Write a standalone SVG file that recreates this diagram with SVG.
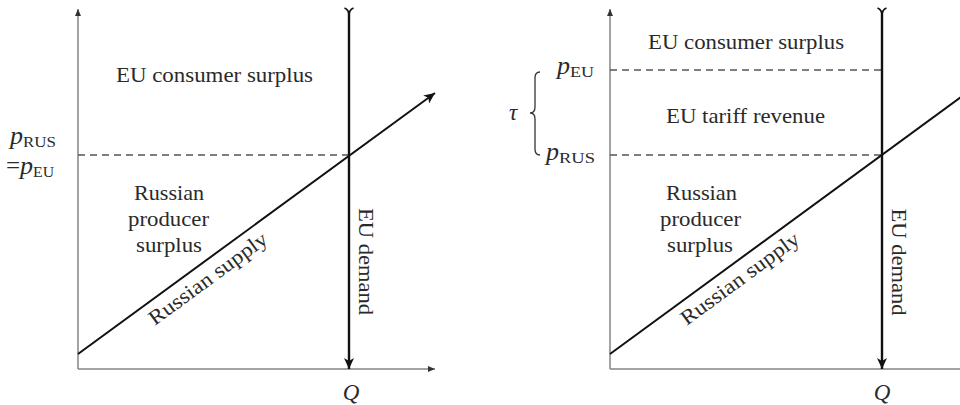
<svg xmlns="http://www.w3.org/2000/svg" width="960" height="405" viewBox="0 0 960 405">
<style>
.lbl{font-family:"Liberation Serif","DejaVu Serif",serif;font-size:21px;fill:#2a2a2a;}
.mi{font-family:"Liberation Serif","DejaVu Serif",serif;font-style:italic;font-size:26px;fill:#2a2a2a;}
.sub{font-family:"Liberation Serif","DejaVu Serif",serif;font-size:15px;fill:#2a2a2a;}
.axis{stroke:#858585;stroke-width:1.5;fill:none;}
.supply{stroke:#111;stroke-width:2;fill:none;}
.demand{stroke:#111;stroke-width:2.4;fill:none;}
.dash{stroke:#555;stroke-width:1.3;stroke-dasharray:7 5;fill:none;}
.fork{stroke:#111;stroke-width:1.6;fill:none;}
.brace{stroke:#333;stroke-width:1.3;fill:none;}
</style>
<defs>
<marker id="axArrow" markerUnits="userSpaceOnUse" markerWidth="8" markerHeight="6" refX="7" refY="3" orient="auto">
<path d="M0,0 L7,3 L0,6 z" fill="#333"/>
</marker>
<marker id="stealth" markerUnits="userSpaceOnUse" markerWidth="12" markerHeight="10" refX="11" refY="5" orient="auto">
<path d="M0,0 L11,5 L0,10 L3,5 z" fill="#111"/>
</marker>
</defs>

<g id="left-panel">
<g id="left-axes">
<line class="axis" x1="78" y1="369" x2="78" y2="9" marker-end="url(#axArrow)"/>
<line class="axis" x1="78" y1="369" x2="435" y2="369" marker-end="url(#axArrow)"/>
</g>
<g id="left-connectors">
<line class="dash" x1="78" y1="155" x2="349" y2="155"/>
<line class="supply" x1="78" y1="354" x2="435" y2="93" marker-end="url(#stealth)"/>
<line class="demand" x1="349" y1="11" x2="349" y2="369" marker-end="url(#stealth)"/>
<path class="fork" d="M344.5,8 Q349,10 349,15 M353.5,8 Q349,10 349,15"/>
</g>
<g id="left-consumer-surplus"><text class="lbl" x="214.5" y="82" text-anchor="middle" textLength="197" lengthAdjust="spacingAndGlyphs">EU consumer surplus</text></g>
<g id="left-price"><text x="10" y="144"><tspan class="mi">p</tspan><tspan class="sub" dy="3" textLength="33" lengthAdjust="spacingAndGlyphs">RUS</tspan></text>
<text x="6" y="174"><tspan class="lbl" style="font-size:25px">=</tspan><tspan class="mi">p</tspan><tspan class="sub" dy="3" textLength="21" lengthAdjust="spacingAndGlyphs">EU</tspan></text></g>
<g id="left-producer-surplus">
<text class="lbl" x="169" y="200" text-anchor="middle" textLength="70" lengthAdjust="spacingAndGlyphs">Russian</text>
<text class="lbl" x="168.5" y="226" text-anchor="middle" textLength="81" lengthAdjust="spacingAndGlyphs">producer</text>
<text class="lbl" x="169" y="252" text-anchor="middle" textLength="66" lengthAdjust="spacingAndGlyphs">surplus</text>
</g>
<g id="left-supply-label"><text class="lbl" transform="translate(212,284) rotate(-36.3)" text-anchor="middle" textLength="142" lengthAdjust="spacingAndGlyphs">Russian supply</text></g>
<g id="left-demand-label"><text class="lbl" transform="translate(359,261.5) rotate(90)" text-anchor="middle" textLength="107" lengthAdjust="spacingAndGlyphs">EU demand</text></g>
<g id="left-Q"><text class="mi" x="351" y="400" text-anchor="middle" style="font-size:23px">Q</text></g>
</g>

<g id="right-panel">
<g id="right-axes">
<line class="axis" x1="610" y1="369" x2="610" y2="9" marker-end="url(#axArrow)"/>
<line class="axis" x1="610" y1="369" x2="960" y2="369"/>
</g>
<g id="right-connectors">
<line class="dash" x1="610" y1="70" x2="882" y2="70"/>
<line class="dash" x1="610" y1="155" x2="882" y2="155"/>
<line class="supply" x1="610" y1="354" x2="961" y2="97"/>
<line class="demand" x1="882" y1="11" x2="882" y2="369" marker-end="url(#stealth)"/>
<path class="fork" d="M877.5,8 Q882,10 882,15 M886.5,8 Q882,10 882,15"/>
<path class="brace" d="M540,72 Q535,72 535,78 L535,107 Q535,113 530,113 Q535,113 535,119 L535,149 Q535,155 540,155"/>
</g>
<g id="right-consumer-surplus"><text class="lbl" x="746" y="49" text-anchor="middle" textLength="196" lengthAdjust="spacingAndGlyphs">EU consumer surplus</text></g>
<g id="right-tariff-revenue"><text class="lbl" x="745.5" y="123" text-anchor="middle" textLength="159" lengthAdjust="spacingAndGlyphs">EU tariff revenue</text></g>
<g id="right-tau"><text class="mi" x="513" y="120" text-anchor="middle" style="font-size:23px">τ</text></g>
<g id="right-pEU"><text x="557" y="74"><tspan class="mi">p</tspan><tspan class="sub" dy="3" textLength="24" lengthAdjust="spacingAndGlyphs">EU</tspan></text></g>
<g id="right-pRUS"><text x="546" y="160"><tspan class="mi">p</tspan><tspan class="sub" dy="3" textLength="36" lengthAdjust="spacingAndGlyphs">RUS</tspan></text></g>
<g id="right-producer-surplus">
<text class="lbl" x="701.5" y="200" text-anchor="middle" textLength="71" lengthAdjust="spacingAndGlyphs">Russian</text>
<text class="lbl" x="700.5" y="226" text-anchor="middle" textLength="81" lengthAdjust="spacingAndGlyphs">producer</text>
<text class="lbl" x="700" y="252" text-anchor="middle" textLength="66" lengthAdjust="spacingAndGlyphs">surplus</text>
</g>
<g id="right-supply-label"><text class="lbl" transform="translate(744,284) rotate(-36.3)" text-anchor="middle" textLength="142" lengthAdjust="spacingAndGlyphs">Russian supply</text></g>
<g id="right-demand-label"><text class="lbl" transform="translate(892,262) rotate(90)" text-anchor="middle" textLength="107" lengthAdjust="spacingAndGlyphs">EU demand</text></g>
<g id="right-Q"><text class="mi" x="882" y="400" text-anchor="middle" style="font-size:23px">Q</text></g>
</g>
</svg>
